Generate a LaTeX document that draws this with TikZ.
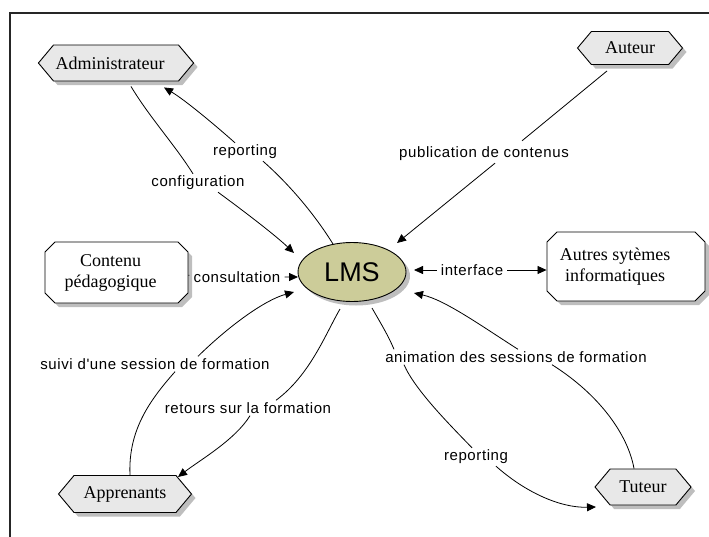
\documentclass[tikz,border=0pt]{standalone}
\usepackage{fontspec}
\setmainfont{Liberation Serif}
\newfontfamily\lblfontfam[LetterSpace=4]{Liberation Sans}
\newfontfamily\lmsfontfam{Liberation Sans}
\usetikzlibrary{arrows.meta,shapes.symbols,shapes.misc,shapes.geometric,shadows,calc}
\definecolor{hexfill}{RGB}{232,232,232}
\definecolor{lmsfill}{RGB}{204,204,153}
\definecolor{shadowgray}{RGB}{190,190,190}
\newcommand\nodetxt{\fontsize{18}{21}\selectfont}
\newcommand\lbltxt{\lblfontfam\fontsize{15}{18}\selectfont}
\newcommand\twolines[3]{\begin{tabular}{@{}c@{}}#1\\#2\end{tabular}\hspace*{#3}}
\tikzset{
  myshadow/.style={drop shadow={shadow xshift=4pt,shadow yshift=-4pt,fill=shadowgray,opacity=1}},
  hexa/.style={shape=signal, signal to=east and west, signal pointer angle=100,
    draw, fill=hexfill, line width=0.9pt, font=\nodetxt, inner sep=2pt, myshadow},
  box/.style={chamfered rectangle, chamfered rectangle sep=5pt, draw, fill=white,
    line width=0.9pt, font=\nodetxt, inner sep=2pt, myshadow},
  lbl/.style={font=\lbltxt, inner xsep=4pt, inner ysep=2pt},
  conn/.style={line width=0.8pt},
  arr/.style={conn, -{Triangle[length=9pt,width=8pt]}},
}
\begin{document}
\begin{tikzpicture}[x=1pt,y=-1pt]
\useasboundingbox (0,0) rectangle (709,536);
% frame (only left and top edges are visible)
\draw[line width=1.2pt, black!85] (10,540) -- (10,13) -- (712,13);

% main nodes
\node[ellipse, draw, fill=lmsfill, minimum width=108pt, minimum height=59pt, inner sep=0pt,
  line width=0.9pt, myshadow, font=\lmsfontfam\fontsize{27}{30}\selectfont] (lms) at (352,272) {LMS};
\node[hexa, minimum width=155pt, minimum height=36pt] (admin) at (116,63) {Administrateur\hspace*{12pt}};
\node[hexa, minimum width=105pt, minimum height=33pt] (auteur) at (630,48) {Auteur};
\node[hexa, minimum width=133pt, minimum height=37pt] (appr) at (125,494) {Apprenants};
\node[hexa, minimum width=96pt, minimum height=36pt] (tuteur) at (643,487) {Tuteur};
\node[box, minimum width=143pt, minimum height=61pt] (contenu) at (116.5,272.5) {\twolines{Contenu}{pédagogique}{12pt}};
\node[box, minimum width=158pt, minimum height=69pt] (autres) at (626,266.5) {\twolines{Autres sytèmes}{informatiques}{22pt}};

% labels
\node[lbl] (lconfig) at (198,183) {configuration};
\node[lbl] (lrep1) at (245,152) {reporting};
\node[lbl] (lpub) at (484,154) {publication de contenus};
\node[lbl] (lcons) at (237,277) {consultation};
\node[lbl] (lint) at (472,270) {interface};
\node[lbl] (lanim) at (516,357) {animation des sessions de formation};
\node[lbl] (lrep2) at (476,457) {reporting};
\node[lbl] (lsuivi) at (155,364) {suivi d'une session de formation};
\node[lbl] (lretours) at (248,408) {retours sur la formation};

% arrow tip coordinates
\coordinate (tipA) at ($(lms)+(-58,-19)$);
\coordinate (tipAdm) at ($(admin.south)+(48,6)$);
\coordinate (tipB) at ($(lms)+(45,-29)$);
\coordinate (tipC) at ($(lms)+(-54,5)$);
\coordinate (tipD) at ($(lms)+(62,-2)$);
\coordinate (tipE) at ($(lms)+(62,21)$);
\coordinate (tipF) at ($(tuteur)+(-47,20)$);
\coordinate (tipG) at ($(lms)+(-58,20)$);
\coordinate (tipH) at ($(appr)+(53,-17)$);

% configuration
\draw[conn] ($(admin.south)+(15,5)$) .. controls (150,118) and (175,145) .. ($(lconfig.north)+(-5,0)$);
\draw[arr] ($(lconfig.south)+(20,0)$) .. controls (245,212) and (275,235) .. (tipA);
% reporting (administrateur)
\draw[conn] ($(lms)+(-19,-28)$) .. controls (315,215) and (290,185) .. ($(lrep1.south)+(18,0)$);
\draw[arr] ($(lrep1.north)+(-10,0)$) .. controls (215,125) and (185,100) .. (tipAdm);
% publication
\draw[conn] ($(auteur.south)+(-23,6)$) -- ($(lpub.north)+(38,-4)$);
\draw[arr] ($(lpub.south)+(11,0)$) -- (tipB);
% consultation
\draw[arr] (contenu) -- (lcons) -- (tipC);
% interface
\draw[arr] (lint) -- (tipD);
\draw[arr] (lint) -- (lint -| autres.west);
% animation
\draw[conn] ($(tuteur.north)+(-9,0)$) .. controls (628,435) and (600,395) .. ($(lanim.south)+(36,0)$);
\draw[arr] ($(lanim.north)+(2,0)$) .. controls (480,325) and (445,300) .. (tipE);
% reporting (tuteur)
\draw[conn] ($(lms)+(20,36)$) .. controls (380,322) and (388,335) .. ($(lanim.north)+(-122,0)$);
\draw[conn] ($(lanim.south)+(-112,0)$) .. controls (415,390) and (450,425) .. ($(lrep2.north)+(-4,0)$);
\draw[arr] ($(lrep2.south)+(20,0)$) .. controls (525,492) and (560,508) .. (tipF);
% suivi
\draw[conn] ($(appr.north)+(5,0)$) .. controls (128,430) and (150,400) .. ($(lsuivi.south)+(20,0)$);
\draw[arr] ($(lsuivi.north)+(43,0)$) .. controls (230,325) and (265,300) .. (tipG);
% retours
\draw[conn] ($(lms)+(-12,37)$) .. controls (325,335) and (310,375) .. ($(lretours.north)+(28,0)$);
\draw[arr] ($(lretours.south)+(2,0)$) .. controls (235,440) and (200,460) .. (tipH);
\end{tikzpicture}
\end{document}
